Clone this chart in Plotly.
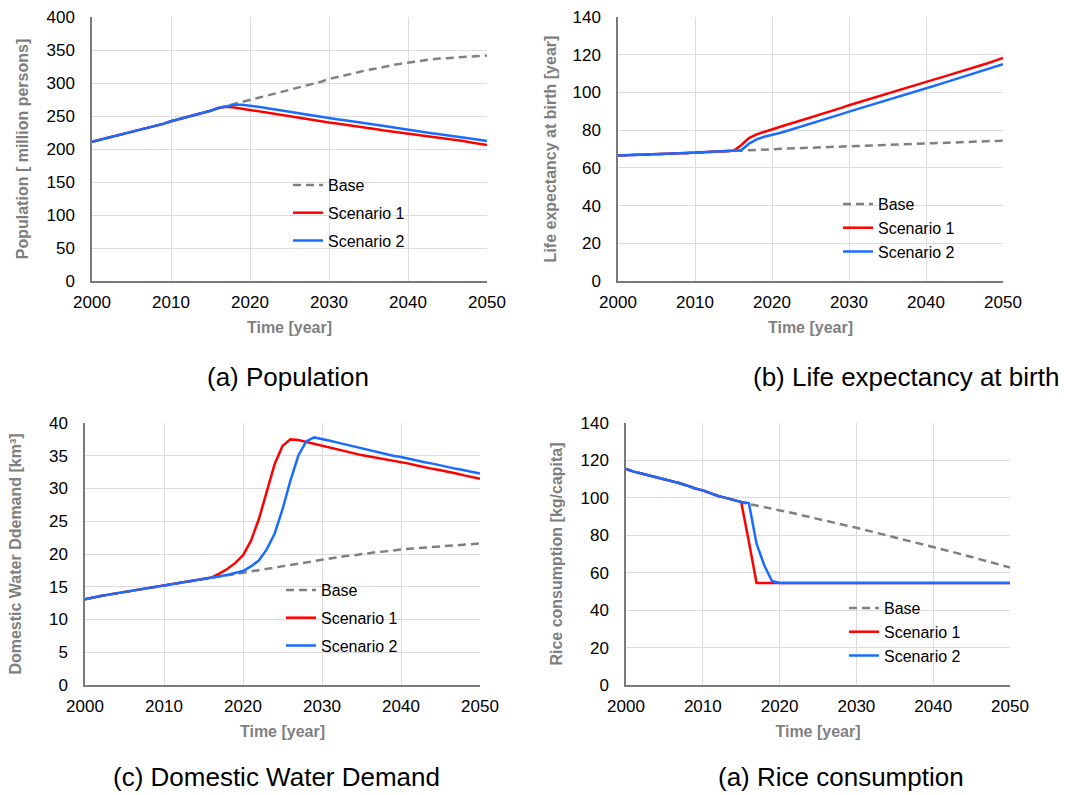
import plotly.graph_objects as go

W, H = 1068, 795

years = list(range(2000, 2051))

# (a) Population [million persons]
pop_base = [211, 214, 217, 219, 222, 225, 228, 232, 235, 238,
            242, 245, 248, 252, 255, 258, 262, 265, 268, 271,
            274, 277, 280, 283, 286, 290, 293, 296, 299, 302,
            306, 309, 312, 315, 317, 320, 322, 325, 327, 329,
            331, 333, 335, 336, 337, 338, 339, 340, 340.5, 341, 341.5]
pop_s1 = [211, 214, 217, 219, 222, 225, 228, 232, 235, 238,
          242, 245, 248, 252, 255, 258, 262, 264, 263, 261,
          259, 257, 255, 253, 251.5, 250, 248, 246, 244, 242,
          240, 238.5, 237, 235, 233, 231.5, 230, 228, 226.5, 225,
          223, 221.5, 220, 218.5, 217, 215, 213.5, 212, 210, 208, 206]
pop_s2 = [211, 214, 217, 219, 222, 225, 228, 232, 235, 238,
          242, 245, 248, 252, 255, 258, 262, 265, 267, 267,
          266, 264, 262, 260, 258, 256, 254, 252, 250.5, 249,
          247, 245, 243.5, 242, 240, 238.5, 237, 235, 233, 231,
          229, 227.5, 226, 224, 222.5, 221, 219.5, 218, 216, 214, 212]

# (b) Life expectancy at birth [year]
le_base = [66.5, 66.6, 66.8, 66.9, 67.0, 67.2, 67.3, 67.5, 67.7, 67.9,
           68.1, 68.3, 68.5, 68.7, 68.9, 69.1, 69.3, 69.5, 69.6, 69.8,
           69.9, 70.1, 70.2, 70.4, 70.5, 70.7, 70.8, 71.0, 71.1, 71.3,
           71.4, 71.6, 71.7, 71.9, 72.0, 72.2, 72.3, 72.5, 72.6, 72.8,
           72.9, 73.1, 73.2, 73.4, 73.5, 73.7, 73.8, 74.0, 74.1, 74.3, 74.4]
le_s1 = [66.5, 66.6, 66.8, 66.9, 67.0, 67.2, 67.3, 67.5, 67.7, 67.9,
         68.1, 68.3, 68.5, 68.7, 68.9, 69.1, 72.0, 75.8, 77.8, 79.2,
         80.6, 81.8, 83.0, 84.2, 85.4, 86.8, 88.2, 89.4, 90.6, 91.8,
         93.2, 94.4, 95.6, 96.8, 98.0, 99.4, 100.6, 101.8, 103.0, 104.2,
         105.6, 106.8, 108.0, 109.2, 110.4, 111.9, 113.1, 114.3, 115.5, 116.9, 118.3]
le_s2 = [66.5, 66.6, 66.8, 66.9, 67.0, 67.2, 67.3, 67.5, 67.7, 67.9,
         68.1, 68.3, 68.5, 68.7, 68.9, 69.1, 69.3, 72.8, 75.1, 76.5,
         77.4, 78.5, 79.7, 80.9, 82.1, 83.5, 84.8, 86.0, 87.2, 88.5,
         89.8, 91.0, 92.2, 93.4, 94.8, 96.0, 97.2, 98.4, 99.8, 101.0,
         102.2, 103.4, 104.7, 106.0, 107.3, 108.6, 109.8, 111.0, 112.2, 113.6, 115.0]

# (c) Domestic water demand [km3]
wd_base = [13.1, 13.4, 13.6, 13.8, 14.0, 14.2, 14.4, 14.6, 14.8, 15.0,
           15.2, 15.4, 15.5, 15.7, 15.9, 16.1, 16.3, 16.6, 16.8, 17.0,
           17.2, 17.4, 17.6, 17.8, 18.0, 18.2, 18.4, 18.6, 18.8, 18.9,
           19.1, 19.3, 19.5, 19.7, 19.8, 20.0, 20.2, 20.3, 20.4, 20.6,
           20.7, 20.8, 20.9, 21.0, 21.1, 21.2, 21.3, 21.4, 21.5, 21.5, 21.6]
wd_s1 = [13.1, 13.4, 13.6, 13.8, 14.0, 14.2, 14.4, 14.6, 14.8, 15.0,
         15.2, 15.4, 15.5, 15.7, 15.9, 16.1, 16.4, 17.0, 17.7, 18.6,
         19.8, 22.0, 25.3, 29.5, 33.7, 36.5, 37.5, 37.4, 37.1, 36.8,
         36.5, 36.2, 35.9, 35.7, 35.4, 35.1, 34.9, 34.7, 34.4, 34.2,
         34.0, 33.8, 33.5, 33.2, 33.0, 32.8, 32.6, 32.3, 32.0, 31.7, 31.5]
wd_s2 = [13.1, 13.4, 13.6, 13.8, 14.0, 14.2, 14.4, 14.6, 14.8, 15.0,
         15.2, 15.4, 15.5, 15.7, 15.9, 16.1, 16.4, 16.6, 16.8, 17.1,
         17.4, 18.1, 19.0, 20.7, 23.1, 26.8, 31.2, 35.0, 37.2, 37.8,
         37.6, 37.3, 37.0, 36.7, 36.4, 36.1, 35.9, 35.6, 35.3, 35.0,
         34.8, 34.5, 34.3, 34.0, 33.8, 33.5, 33.3, 33.0, 32.8, 32.5, 32.3]

# (d) Rice consumption [kg/capita]
rc_base = [115.5, 114.0, 113.0, 112.0, 111.0, 110.2, 109.0, 107.8, 106.5, 105.0,
           104.0, 102.3, 101.0, 100.0, 98.8, 97.8, 96.6, 95.9, 95.1, 94.3,
           93.4, 92.5, 91.6, 90.6, 89.7, 88.7, 87.8, 86.8, 85.9, 85.0,
           84.0, 83.0, 82.0, 81.0, 80.0, 79.0, 78.0, 77.0, 76.0, 74.9,
           73.9, 72.8, 71.7, 70.6, 69.5, 68.4, 67.3, 66.2, 65.0, 63.9, 62.8]
rc_s1 = [115.5, 114.0, 113.0, 112.0, 111.0, 110.2, 109.0, 107.8, 106.5, 105.0,
         104.0, 102.3, 101.0, 100.0, 98.8, 97.8, 76.5, 54.5, 54.5, 54.5,
         54.5, 54.5, 54.5, 54.5, 54.5, 54.5, 54.5, 54.5, 54.5, 54.5,
         54.5, 54.5, 54.5, 54.5, 54.5, 54.5, 54.5, 54.5, 54.5, 54.5,
         54.5, 54.5, 54.5, 54.5, 54.5, 54.5, 54.5, 54.5, 54.5, 54.5, 54.5]
rc_s2 = [115.5, 114.0, 113.0, 112.0, 111.0, 110.2, 109.0, 107.8, 106.5, 105.0,
         104.0, 102.3, 101.0, 100.0, 98.8, 97.8, 97.2, 75.5, 64.0, 55.6,
         54.5, 54.5, 54.5, 54.5, 54.5, 54.5, 54.5, 54.5, 54.5, 54.5,
         54.5, 54.5, 54.5, 54.5, 54.5, 54.5, 54.5, 54.5, 54.5, 54.5,
         54.5, 54.5, 54.5, 54.5, 54.5, 54.5, 54.5, 54.5, 54.5, 54.5, 54.5]

series_names = ["Base", "Scenario 1", "Scenario 2"]
y_titles = ["Population [ million persons]", "Life expectancy at birth [year]",
            "Domestic Water Ddemand [km³]", "Rice consumption [kg/capita]"]
captions = ["(a) Population", "(b) Life expectancy at birth",
            "(c) Domestic Water Demand", "(a) Rice consumption"]
y_ranges = [(0, 400, 50), (0, 140, 20), (0, 40, 5), (0, 140, 20)]
panels = [(pop_base, pop_s1, pop_s2), (le_base, le_s1, le_s2),
          (wd_base, wd_s1, wd_s2), (rc_base, rc_s1, rc_s2)]

FONT = "Liberation Sans, Arial, sans-serif"
GRAY = "#808080"
RED = "#ff0000"
BLUE = "#1a6cff"

# plot-area boxes in pixels (left, right, top, bottom)
boxes = [(92, 487, 17, 281), (618, 1003, 17, 281),
         (85, 480, 423, 685), (626, 1010, 423, 685)]
title_standoff = [14, 12, 23, 14]
legend_pos = [(288, 168), (838, 187), (281, 573), (844, 591)]
group_gap = [4, 0, 4, 0]
caption_pos = [(288, 377), (906, 377), (276, 777), (841, 777)]

fig = go.Figure()
styles = [dict(color=GRAY, width=2.5, dash="8px,5px"),
          dict(color=RED, width=2.5),
          dict(color=BLUE, width=2.5)]

layout = dict(width=W, height=H, margin=dict(l=0, r=0, t=0, b=0, autoexpand=False),
              paper_bgcolor="white", plot_bgcolor="white",
              font=dict(family=FONT, color="#000000"), showlegend=True)

for i, (vals, box) in enumerate(zip(panels, boxes)):
    n = "" if i == 0 else str(i + 1)
    lg = "legend" if i == 0 else f"legend{i + 1}"
    for j, v in enumerate(vals):
        fig.add_trace(go.Scatter(
            x=years, y=v, mode="lines", name=series_names[j],
            line=styles[j], xaxis=f"x{n}", yaxis=f"y{n}",
            legend=lg, legendgroup=f"p{i}_{j}"))
    l, r, t, b = box
    ax = dict(showgrid=True, gridcolor="#dcdcdc", gridwidth=1,
              showline=True, linecolor="#7a7a7a", linewidth=1.5, automargin=False,
              zeroline=False, ticks="", tickfont=dict(size=17, color="#000000"))
    layout[f"xaxis{n}"] = dict(
        ax, domain=[l / W, r / W], anchor=f"y{n}", range=[2000, 2050], dtick=10,
        tick0=2000, ticklabelstandoff=5,
        title=dict(text="<b>Time [year]</b>", font=dict(size=16, color="#7f7f7f"), standoff=11))
    y0, y1, dy = y_ranges[i]
    layout[f"yaxis{n}"] = dict(
        ax, domain=[1 - b / H, 1 - t / H], anchor=f"x{n}", range=[y0, y1], dtick=dy,
        ticklabelstandoff=12,
        title=dict(text=f"<b>{y_titles[i]}</b>", font=dict(size=16, color="#7f7f7f"),
                   standoff=title_standoff[i]))
    lx, ly = legend_pos[i]
    layout[lg] = dict(x=lx / W, y=1 - ly / H, xanchor="left", yanchor="top",
                      bgcolor="rgba(0,0,0,0)", font=dict(size=16, color="#000000"),
                      tracegroupgap=group_gap[i], traceorder="grouped")

annotations = []
for (cx, cy), txt in zip(caption_pos, captions):
    annotations.append(dict(text=txt, x=cx / W, y=1 - cy / H, xref="paper", yref="paper",
                            xanchor="center", yanchor="middle", showarrow=False,
                            font=dict(size=26, color="#000000", family=FONT)))
layout["annotations"] = annotations

fig.update_layout(**layout)
fig.write_html("out.html", config={"displayModeBar": False},
               post_script="document.body.style.margin='0';document.body.style.overflow='hidden';")
